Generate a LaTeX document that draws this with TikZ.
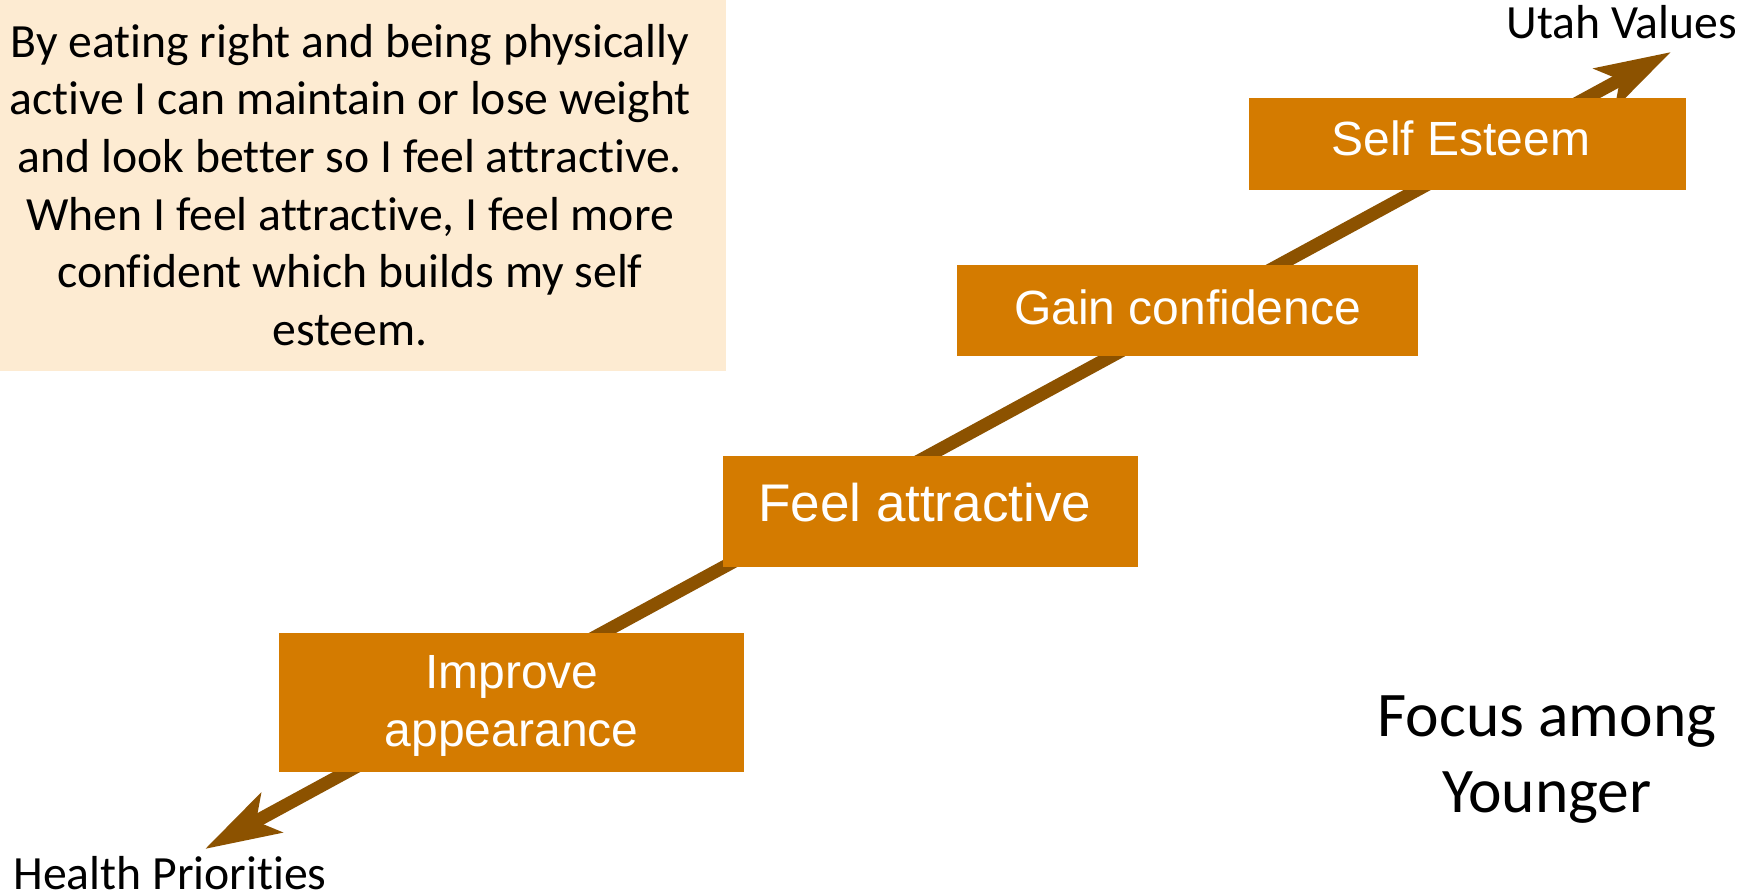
\documentclass[tikz,border=0pt]{standalone}
\usepackage{fontspec}
\setmainfont{Carlito}[Ligatures=NoCommon]
\newfontfamily\arialf{Liberation Sans}
\usetikzlibrary{arrows.meta}
\definecolor{peach}{HTML}{FDEBD2}
\definecolor{boxor}{HTML}{D47B00}
\definecolor{arrbr}{HTML}{8C5200}
\begin{document}
\begin{tikzpicture}[x=1pt,y=-1pt,
  stepbox/.style={fill=boxor, draw=none, inner sep=0pt, anchor=north west},
  steptext/.style={inner sep=0pt, text=white, align=center,
    font=\arialf\fontsize{48}{58}\selectfont},
  plain/.style={inner sep=0pt, align=center, text=black, font=\fontsize{47.7}{57.6}\selectfont},
  bigarrow/.style={draw=arrbr, line width=13pt,
    {Stealth[length=75pt,width=44pt,inset=17pt]}-{Stealth[length=75pt,width=44pt,inset=17pt]}}]
\useasboundingbox (0,0) rectangle (1754,896);
\fill[white] (0,0) rectangle (1754,896);
% note box
\node[fill=peach, inner sep=0pt, minimum width=726pt, minimum height=371pt, anchor=north west] (note) at (0,0) {};
\node[plain] (notetext) at (350,185) {By eating right and being physically\\active I can maintain or lose weight\\and look better so I feel attractive.\\When I feel attractive, I feel more\\confident which builds my self\\esteem.};
% arrow
\coordinate (lo) at (205,849);
\coordinate (hi) at (1671,52);
\draw[bigarrow] (lo) -- (hi);
% boxes
\node[stepbox, minimum width=437pt, minimum height=92pt] (se) at (1249,98) {};
\node[stepbox, minimum width=461pt, minimum height=91pt] (gc) at (957,265) {};
\node[stepbox, minimum width=415pt, minimum height=111pt] (fa) at (723,456) {};
\node[stepbox, minimum width=465pt, minimum height=139pt] (ia) at (279,633) {};
\node[steptext] (setext) at ([shift={(-7,-6)}]se.center) {Self Esteem};
\node[steptext] (gctext) at ([shift={(0,-3)}]gc.center) {Gain confidence};
\node[steptext, font=\arialf\fontsize{53}{62}\selectfont] (fatext) at ([shift={(-6,-9)}]fa.center) {Feel attractive};
\node[steptext] (iatext) at ([shift={(0,3)}]ia.center) {Improve\\appearance};
% labels
\node[plain] (uv) at (1622,22) {Utah Values};
\node[plain] (hp) at (170,873) {Health Priorities};
\node[plain, font=\fontsize{63.5}{76}\selectfont] (focus) at (1547,760) {Focus among\\Younger};
\end{tikzpicture}
\end{document}
